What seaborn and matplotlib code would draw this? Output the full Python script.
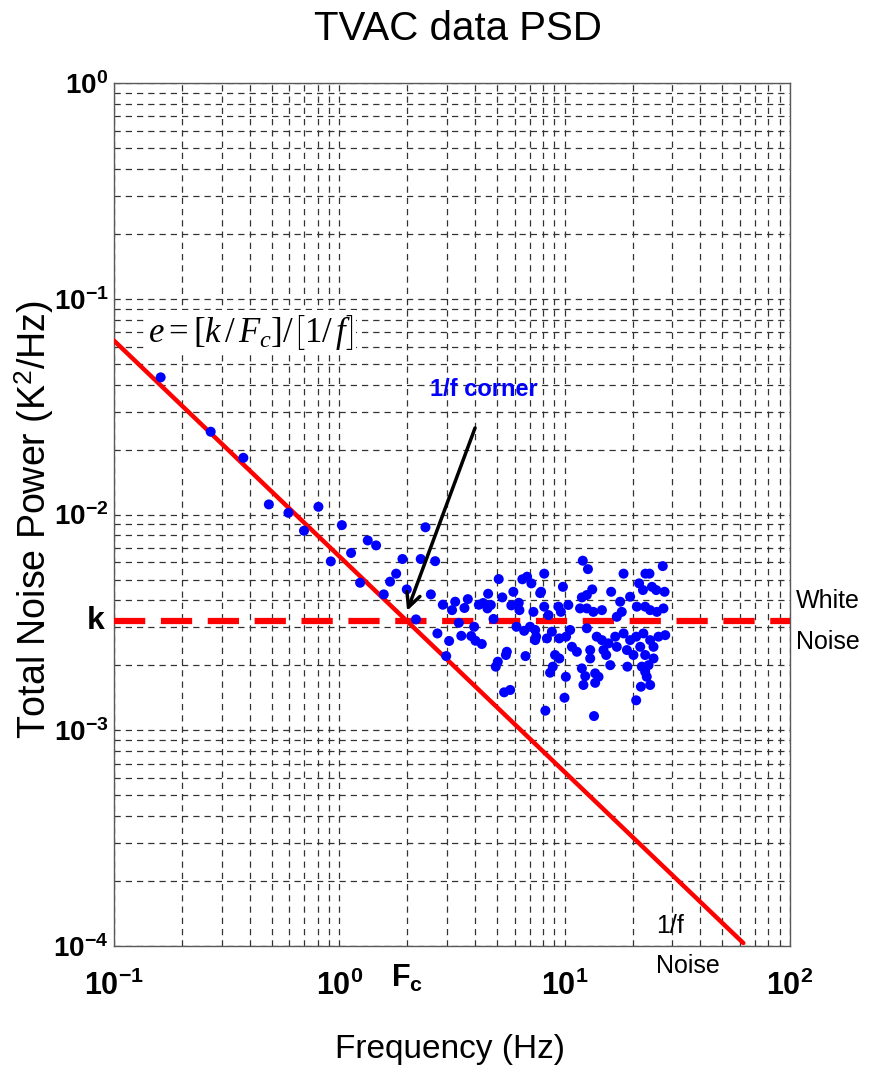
import numpy as np
import pandas as pd
import seaborn as sns
import matplotlib.pyplot as plt
import matplotlib.transforms as mtransforms
from matplotlib.ticker import LogLocator, NullFormatter

# white noise level k, corner frequency Fc
k_level = 3.2e-3
f_corner = 2.0

# 1/f line end points (Hz)
line_freq = [0.1, 62.0]

x_ticks = [0.1, 1.0, 10.0, 100.0]
x_tick_labels = [r"$\mathbf{10^{-1}}$", r"$\mathbf{10^{0}}$", r"$\mathbf{10^{1}}$", r"$\mathbf{10^{2}}$"]
y_ticks = [1e-4, 1e-3, 1e-2, 1e-1, 1.0]
y_tick_labels = [r"$\mathbf{10^{-4}}$", r"$\mathbf{10^{-3}}$", r"$\mathbf{10^{-2}}$", r"$\mathbf{10^{-1}}$", r"$\mathbf{10^{0}}$"]

# PSD points, as log10 values
log_freq = [
    -0.793, -0.571, -0.426, -0.313, -0.226, -0.093, -0.157, 0.011, -0.038, 0.052,
    0.126, 0.163, 0.092, 0.197, 0.225, 0.252, 0.280, 0.299, 0.382, 0.361,
    0.425, 0.406, 0.340, 0.435,
    0.459, 0.514, 0.500, 0.555, 0.570, 0.619, 0.638, 0.657, 0.672, 0.660,
    0.707, 0.723, 0.772, 0.763, 0.796, 0.799, 0.812, 0.833, 0.852, 0.861,
    0.530, 0.598, 0.684, 0.786, 0.846, 0.820, 0.487, 0.541, 0.585, 0.604,
    0.632, 0.474, 0.743, 0.739, 0.703, 0.694, 0.826, 0.873, 0.731, 0.758,
    0.891,
    1.080, 1.103, 0.909, 0.895, 0.992, 1.261, 1.358, 1.376, 1.435, 1.206,
    1.122, 1.098, 1.076, 0.909, 0.928, 0.972, 1.016, 0.983, 1.068, 1.098,
    1.127, 1.165, 1.246, 1.290, 1.330, 1.347, 1.387, 1.406, 1.443, 1.320,
    1.357, 1.379, 1.409, 1.438, 1.253, 1.231, 0.869, 0.869, 0.921, 0.943,
    0.976, 1.006, 1.024, 1.098, 1.142, 1.165, 1.194, 1.224, 1.261, 1.290,
    1.317, 1.349, 1.379, 1.416, 1.446, 1.032, 1.054, 1.113, 1.172, 1.231,
    1.276, 1.335, 1.394, 0.957, 0.976, 1.113, 1.184, 1.305, 1.357, 1.394,
    1.202, 1.278, 1.342, 1.372, 1.076, 0.947, 0.935, 1.091, 1.135, 1.150,
    1.357, 1.364, 1.005, 1.135, 1.083, 1.338, 1.379, 0.999, 1.317, 0.914,
    1.130,
]
log_power = [
    -1.364, -1.616, -1.737, -1.953, -1.992, -1.964, -2.075, -2.049, -2.217, -2.178,
    -2.120, -2.143, -2.316, -2.370, -2.311, -2.274, -2.206, -2.347, -2.059, -2.206,
    -2.216, -2.370, -2.486, -2.551,
    -2.418, -2.404, -2.443, -2.433, -2.392, -2.418, -2.410, -2.435, -2.419, -2.367,
    -2.299, -2.384, -2.358, -2.421, -2.409, -2.443, -2.300, -2.288, -2.319, -2.451,
    -2.502, -2.520, -2.484, -2.520, -2.520, -2.539, -2.586, -2.562, -2.563, -2.585,
    -2.600, -2.656, -2.636, -2.651, -2.682, -2.705, -2.656, -2.566, -2.824, -2.813,
    -2.364,
    -2.214, -2.253, -2.274, -2.358, -2.335, -2.274, -2.274, -2.274, -2.239, -2.358,
    -2.347, -2.373, -2.384, -2.427, -2.466, -2.427, -2.419, -2.451, -2.435, -2.435,
    -2.451, -2.443, -2.404, -2.381, -2.319, -2.350, -2.335, -2.350, -2.358, -2.427,
    -2.427, -2.443, -2.451, -2.435, -2.451, -2.474, -2.535, -2.582, -2.574, -2.543,
    -2.574, -2.566, -2.535, -2.527, -2.566, -2.582, -2.597, -2.566, -2.551, -2.582,
    -2.566, -2.551, -2.582, -2.566, -2.559, -2.613, -2.636, -2.628, -2.628, -2.613,
    -2.628, -2.613, -2.613, -2.651, -2.667, -2.667, -2.651, -2.651, -2.651, -2.667,
    -2.698, -2.705, -2.705, -2.698, -2.713, -2.705, -2.733, -2.749, -2.736, -2.752,
    -2.729, -2.752, -2.752, -2.780, -2.790, -2.798, -2.790, -2.849, -2.861, -2.909,
    -2.934,
]

sns.set_style("white")

plt.rcParams["font.family"] = ["Liberation Sans", "DejaVu Sans"]
plt.rcParams["text.color"] = "black"
plt.rcParams["axes.labelcolor"] = "black"
plt.rcParams["xtick.color"] = "black"
plt.rcParams["ytick.color"] = "black"
plt.rcParams["mathtext.fontset"] = "custom"
plt.rcParams["mathtext.rm"] = "Liberation Serif"
plt.rcParams["mathtext.it"] = "Liberation Serif:italic"
plt.rcParams["mathtext.bf"] = "Liberation Sans:bold"
plt.rcParams["mathtext.sf"] = "Liberation Sans"

psdFrame = pd.DataFrame({
    "freq": np.power(10.0, log_freq),
    "power": np.power(10.0, log_power),
})
lineFrame = pd.DataFrame({
    "freq": line_freq,
    "power": [k_level * f_corner / f for f in line_freq],
})
whiteFrame = pd.DataFrame({"freq": [0.1, 100.0], "power": [k_level, k_level]})

fig = plt.figure(figsize=(8.69, 10.72), dpi=100)
ax = fig.add_axes([0.1312, 0.1175, 0.778, 0.805])
ax.set_xscale("log")
ax.set_yscale("log")
ax.set_xlim(0.1, 100)
ax.set_ylim(1e-4, 1)

gridStyle = dict(linestyle=(0, (5, 4)), color="0.2", linewidth=0.9)
ax.grid(True, which="both", **gridStyle)
ax.set_axisbelow(True)

sns.lineplot(data=lineFrame, x="freq", y="power", ax=ax, color="#ff0000",
             linewidth=3.2, sort=False, zorder=3)
sns.lineplot(data=whiteFrame, x="freq", y="power", ax=ax, color="#ff0000",
             linewidth=4.5, sort=False, zorder=4)
ax.lines[-1].set_dashes((5, 2.5))
sns.scatterplot(data=psdFrame, x="freq", y="power", ax=ax, color="#0000ff",
                s=52, edgecolor="none", linewidth=0, zorder=5)

ax.set_xticks(x_ticks)
ax.set_xticklabels(x_tick_labels)
ax.set_yticks(y_ticks)
ax.set_yticklabels(y_tick_labels)
ax.xaxis.set_minor_locator(LogLocator(base=10, subs=np.arange(2, 10)))
ax.yaxis.set_minor_locator(LogLocator(base=10, subs=np.arange(2, 10)))
ax.xaxis.set_minor_formatter(NullFormatter())
ax.yaxis.set_minor_formatter(NullFormatter())
ax.tick_params(which="both", length=0)
ax.tick_params(axis="x", labelsize=22, pad=18)
ax.tick_params(axis="y", labelsize=20, pad=4)

for spine in ax.spines.values() :
    spine.set_color("0.35")
    spine.set_linewidth(1.0)

ax.set_xlabel("Frequency (Hz)", fontsize=24)
ax.xaxis.set_label_coords(0.497, -0.12)
ax.xaxis.label.set_verticalalignment("center")
ax.set_ylabel(r"Total Noise Power (K$^{\mathsf{2}}$/Hz)", fontsize=27)
ax.yaxis.set_label_coords(-0.118, 0.494)
ax.yaxis.label.set_verticalalignment("center")

fig.text(0.527, 0.973, "TVAC data PSD", ha="center", va="center", fontsize=29)

xDataYAxes = mtransforms.blended_transform_factory(ax.transData, ax.transAxes)
yDataXAxes = mtransforms.blended_transform_factory(ax.transAxes, ax.transData)

ax.text(-0.014, k_level, "k", transform=yDataXAxes, ha="right", va="center",
        fontsize=23, fontweight="bold")
ax.text(f_corner, -0.038, r"$\mathbf{F_c}$", transform=xDataYAxes, ha="center",
        va="center", fontsize=22)
ax.text(1.008, k_level, "White\nNoise", transform=yDataXAxes, ha="left",
        va="center", fontsize=18, linespacing=1.9)
ax.text(25.5, 0.0, "1/f\nNoise", transform=xDataYAxes, ha="left", va="center",
        fontsize=18, linespacing=1.8)

ax.text(0.405, 0.070, r"$e=\left[k\,/\,F_c\right]/\left[1/\,f\right]$",
        ha="center", va="center", fontsize=25, zorder=6,
        bbox=dict(facecolor="white", edgecolor="none", pad=2))
ax.text(2.53, 0.0378, "1/f corner", ha="left", va="center", fontsize=17,
        color="#0000ff", fontweight="bold")
ax.annotate("", xy=(f_corner, k_level * 1.12), xytext=(4.0, 0.0252),
            arrowprops=dict(arrowstyle="->", color="black", lw=2.5,
                            mutation_scale=25, shrinkA=0, shrinkB=0),
            zorder=7)

fig.savefig("out.png", dpi=100)
